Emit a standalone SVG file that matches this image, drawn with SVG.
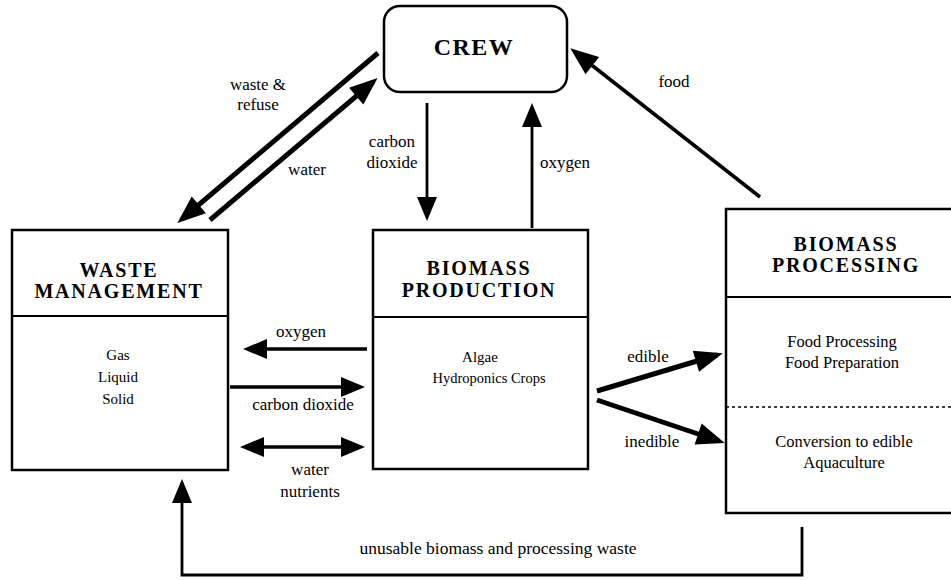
<svg xmlns="http://www.w3.org/2000/svg" width="951" height="580" viewBox="0 0 951 580">
<style>
  .box { fill: #fff; stroke: #000; stroke-width: 2.5; }
  .div { stroke: #000; stroke-width: 2.2; }
  .hdr { font-family: "Liberation Serif", "Times New Roman", serif; font-weight: bold; font-size: 20px; letter-spacing: 1.8px; text-anchor: middle; fill: #000; }
  .body { font-family: "Liberation Serif", "Times New Roman", serif; font-size: 15px; text-anchor: middle; fill: #000; }
  .lbl { font-family: "Liberation Serif", "Times New Roman", serif; font-size: 17px; text-anchor: middle; fill: #000; }
  .thick { stroke: #000; stroke-width: 5; fill: none; }
  .mid { stroke: #000; stroke-width: 3.5; fill: none; }
  .thin { stroke: #000; stroke-width: 2.8; fill: none; }
</style>
<defs>
  <marker id="big" markerUnits="userSpaceOnUse" markerWidth="28" markerHeight="22" refX="22" refY="11" orient="auto-start-reverse" overflow="visible">
    <path d="M0,0 L28,11 L0,22 z" fill="#000"/>
  </marker>
  <marker id="small" markerUnits="userSpaceOnUse" markerWidth="24" markerHeight="20" refX="18" refY="10" orient="auto-start-reverse" overflow="visible">
    <path d="M0,0 L24,10 L0,20 z" fill="#000"/>
  </marker>
</defs>
<rect width="951" height="580" fill="#fff"/>

<g id="crew">
  <rect class="box" x="384" y="6" width="183" height="86" rx="16" ry="16"/>
  <text x="474" y="55" class="hdr" style="font-size:24px;letter-spacing:1.5px">CREW</text>
</g>

<g id="waste-management">
  <rect class="box" x="12" y="230" width="216" height="240"/>
  <line class="div" x1="12" y1="316" x2="228" y2="316"/>
  <text x="119" y="277" class="hdr">WASTE</text>
  <text x="119" y="298" class="hdr">MANAGEMENT</text>
  <text x="118" y="360" class="body">Gas</text>
  <text x="118" y="382" class="body">Liquid</text>
  <text x="118" y="404" class="body">Solid</text>
</g>

<g id="biomass-production">
  <rect class="box" x="373" y="230" width="215" height="239"/>
  <line class="div" x1="373" y1="317" x2="588" y2="317"/>
  <text x="479" y="275" class="hdr">BIOMASS</text>
  <text x="479" y="297" class="hdr">PRODUCTION</text>
  <text x="480" y="362" class="body">Algae</text>
  <text x="489" y="383" class="body" style="font-size:14.5px">Hydroponics Crops</text>
</g>

<g id="biomass-processing">
  <rect class="box" x="726" y="209" width="240" height="304"/>
  <line class="div" x1="726" y1="297" x2="951" y2="297"/>
  <line x1="726" y1="407" x2="951" y2="407" stroke="#000" stroke-width="1.5" stroke-dasharray="3,3"/>
  <text x="846" y="251" class="hdr">BIOMASS</text>
  <text x="846" y="272" class="hdr">PROCESSING</text>
  <text x="842" y="347" class="body" style="font-size:16.5px">Food Processing</text>
  <text x="842" y="368" class="body" style="font-size:16.5px">Food Preparation</text>
  <text x="844" y="447" class="body" style="font-size:16.5px">Conversion to edible</text>
  <text x="844" y="468" class="body" style="font-size:16.5px">Aquaculture</text>
</g>

<g id="connectors">
  <line class="thick" x1="378" y1="53" x2="182" y2="219" marker-end="url(#big)"/>
  <line class="thick" x1="210" y1="220" x2="373" y2="82" marker-end="url(#big)"/>
  <line class="thin" x1="427" y1="103" x2="427" y2="215" marker-end="url(#small)"/>
  <line class="thin" x1="532" y1="228" x2="532" y2="109" marker-end="url(#small)"/>
  <line class="mid" x1="760" y1="197" x2="575" y2="52" marker-end="url(#big)"/>
  <line class="mid" x1="367" y1="349" x2="249" y2="349" marker-end="url(#small)"/>
  <line class="mid" x1="230" y1="387" x2="359" y2="387" marker-end="url(#small)"/>
  <line class="mid" x1="246" y1="447" x2="359" y2="447" marker-start="url(#small)" marker-end="url(#small)"/>
  <line class="thick" x1="597" y1="391" x2="717" y2="355" marker-end="url(#big)"/>
  <line class="thick" x1="597" y1="400" x2="719" y2="441" marker-end="url(#big)"/>
  <polyline class="thin" points="802,527 802,575 182,575 182,485" marker-end="url(#small)"/>

  <text x="258" y="90" class="lbl">waste &amp;</text>
  <text x="258" y="110" class="lbl">refuse</text>
  <text x="307" y="175" class="lbl">water</text>
  <text x="392" y="147" class="lbl">carbon</text>
  <text x="392" y="168" class="lbl">dioxide</text>
  <text x="540" y="168" class="lbl" style="text-anchor:start">oxygen</text>
  <text x="674" y="87" class="lbl">food</text>
  <text x="301" y="337" class="lbl">oxygen</text>
  <text x="303" y="410" class="lbl">carbon dioxide</text>
  <text x="310" y="475" class="lbl">water</text>
  <text x="310" y="497" class="lbl">nutrients</text>
  <text x="648" y="362" class="lbl">edible</text>
  <text x="652" y="447" class="lbl">inedible</text>
  <text x="498" y="554" class="lbl" style="font-size:17.5px">unusable biomass and processing waste</text>
</g>
</svg>
